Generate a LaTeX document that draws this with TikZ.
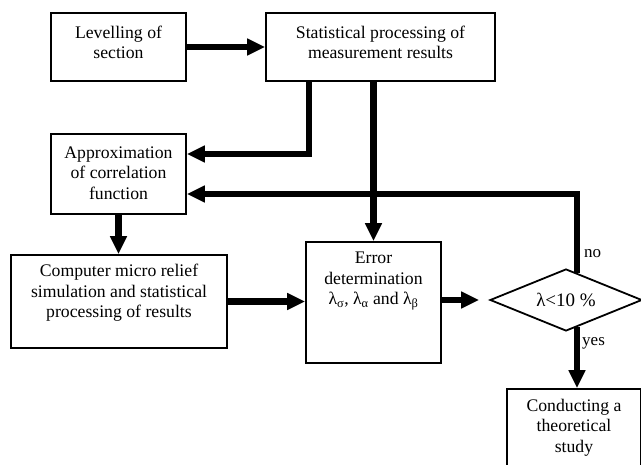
\documentclass[tikz,border=0pt]{standalone}
\usepackage{fontspec}
\setmainfont{Liberation Serif}
\usetikzlibrary{arrows.meta,shapes.geometric}
\begin{document}
\begin{tikzpicture}[x=1pt,y=-1pt,
  box/.style={draw,line width=1.8pt,rectangle,inner sep=0pt},
  lbl/.style={align=center,inner sep=0pt,font=\fontsize{17.7}{20.5}\selectfont},
  arr/.style={line width=6.3pt,-{Triangle[length=18pt,width=16pt]}},
  ]
\useasboundingbox (0,0) rectangle (641,465);
\clip (0,0) rectangle (641,465);
% boxes
\node[box,minimum width=135pt,minimum height=68pt] (lev) at (118.5,47) {};
\node[lbl] (levT) at (118.5,42.5) {Levelling of\\section};
\node[box,minimum width=229pt,minimum height=68pt] (stat) at (380.5,47) {};
\node[lbl] (statT) at (380.5,42.5) {Statistical processing of\\measurement results};
\node[box,minimum width=135pt,minimum height=80pt] (approx) at (118.5,174) {};
\node[lbl] (approxT) at (118.5,173) {Approximation\\of correlation\\function};
\node[box,minimum width=216pt,minimum height=93pt] (comp) at (119,301.5) {};
\node[lbl] (compT) at (119,293) {Computer micro relief\\simulation and statistical\\processing of results};
\node[box,minimum width=135pt,minimum height=121pt] (err) at (373.5,302.5) {};
\node[lbl] (errT) at (373.5,281) {Error\\determination\\λ\textsubscript{σ}, λ\textsubscript{α} and λ\textsubscript{β}};
\node[draw,line width=1.8pt,diamond,inner sep=0pt,shape aspect=2.45,
      minimum width=152pt,minimum height=62pt,
      font=\fontsize{19}{22}\selectfont] (dia) at (566,300) {λ<10 \%};
\node[box,minimum width=134pt,minimum height=82pt] (conc) at (574,430) {};
\node[lbl] (concT) at (574,427.5) {Conducting a\\theoretical\\study};
% labels
\node[lbl,anchor=west,font=\fontsize{17}{20}\selectfont] (noT) at (584,254) {no};
\node[lbl,anchor=west,font=\fontsize{17}{20}\selectfont] (yesT) at (582,343) {yes};
% helper coordinates
\coordinate (fb) at (577,273);
\coordinate (yb) at (577,327);
% connectors
\draw[arr] (lev.east) -- (stat.west);
\draw[arr] ([xshift=-71.5pt]stat.south) |- ([yshift=20pt]approx.east);
\draw[arr] (stat.south -| err.north) -- (err.north);
\draw[arr] (fb) |- ([yshift=-20pt]approx.east);
\draw[arr] (approx.south) -- (approx.south |- comp.north);
\draw[arr] (comp.east) -- (comp.east -| err.west);
\draw[arr] (err.east |- dia.west) -- ([xshift=-10pt]dia.west);
\draw[arr] (yb) -- (yb |- conc.north);
\end{tikzpicture}
\end{document}
